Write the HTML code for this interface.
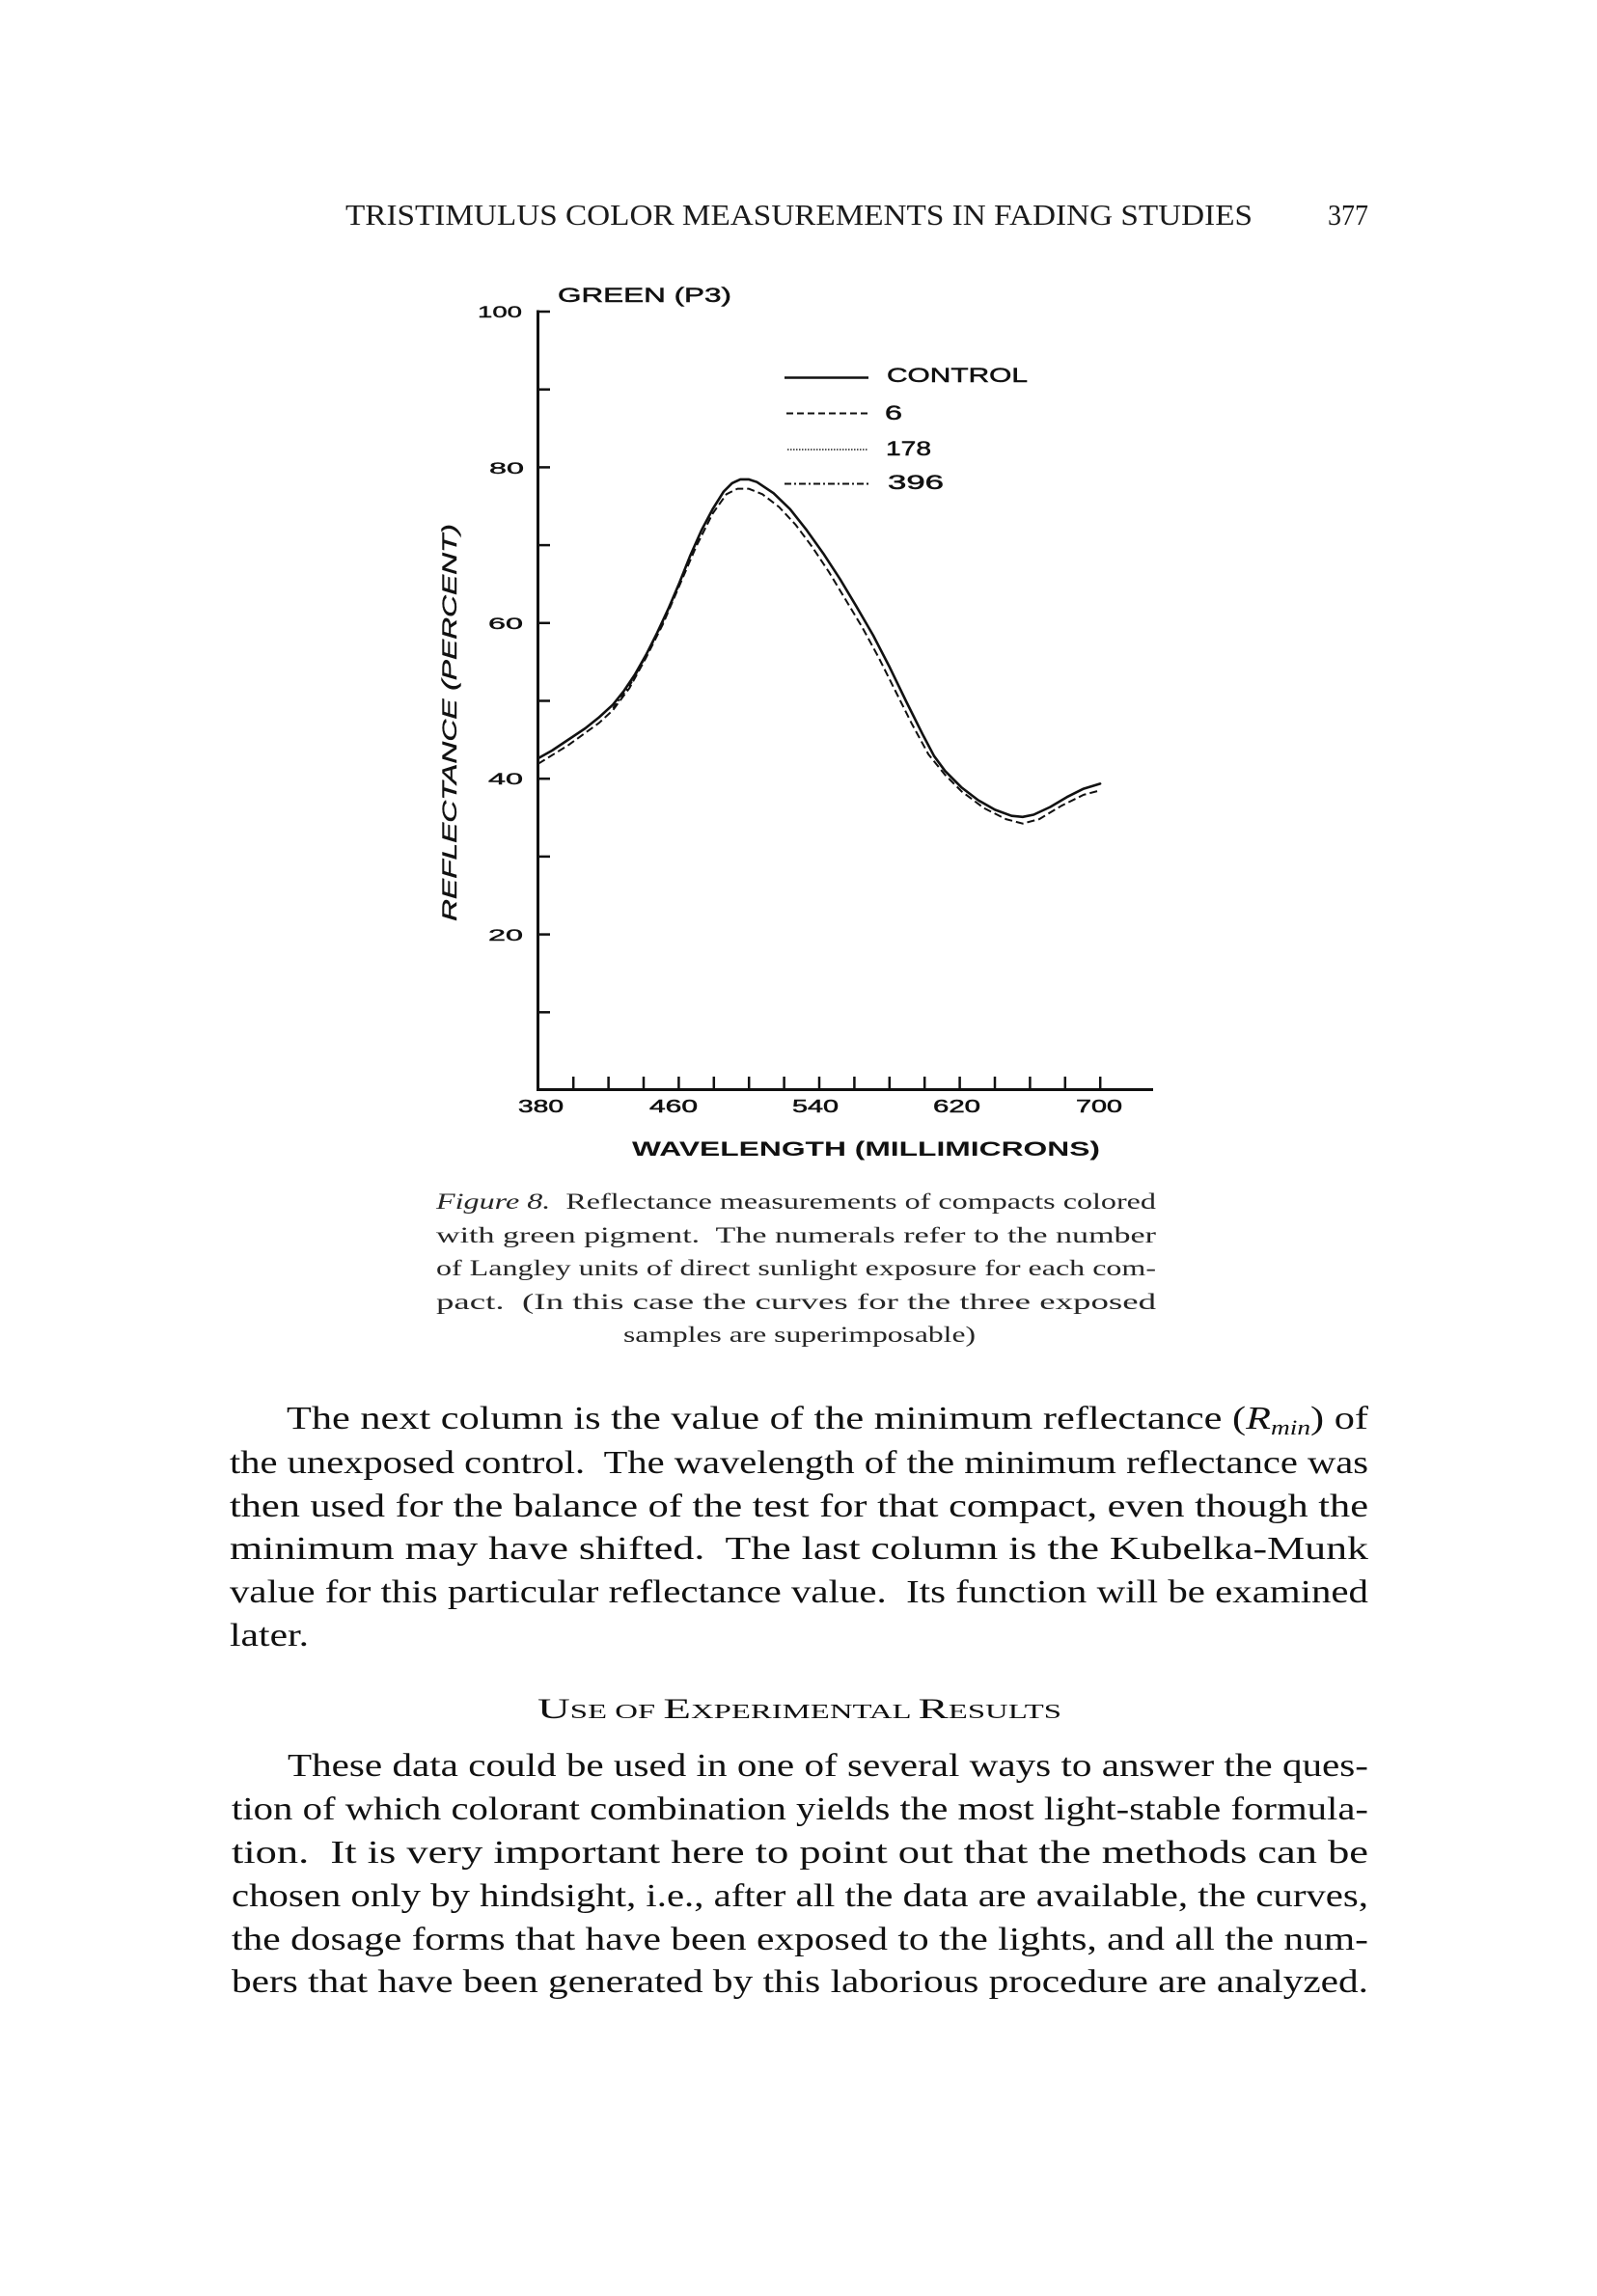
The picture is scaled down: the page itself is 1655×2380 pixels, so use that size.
<!DOCTYPE html>
<html>
<head>
<meta charset="utf-8">
<style>
  html, body { margin:0; padding:0; background:#fff; }
  svg { display:block; }
  .serif { font-family: "Liberation Serif", "DejaVu Serif", serif; }
  .sans { font-family: "Liberation Sans", "DejaVu Sans", sans-serif; }
  text { white-space: pre; }
</style>
</head>
<body>
<svg width="1655" height="2380" viewBox="0 0 1655 2380" xmlns="http://www.w3.org/2000/svg">
  <rect x="0" y="0" width="1655" height="2380" fill="#fff"/>

  <!-- Running header -->
  <text class="serif" x="358" y="233" font-size="31" fill="#1a1a1a" textLength="940" lengthAdjust="spacingAndGlyphs">TRISTIMULUS COLOR MEASUREMENTS IN FADING STUDIES</text>
  <text class="serif" x="1376" y="233" font-size="31" fill="#1a1a1a" textLength="42" lengthAdjust="spacingAndGlyphs">377</text>

  <!-- Chart title -->
  <text class="sans" x="578" y="313" font-size="21" fill="#111" stroke="#111" stroke-width="0.5" textLength="180" lengthAdjust="spacingAndGlyphs">GREEN (P3)</text>

  <!-- Axes -->
  <line x1="557.5" y1="321.5" x2="557.5" y2="1131" stroke="#111" stroke-width="3"/>
  <line x1="556" y1="1129.5" x2="1195" y2="1129.5" stroke="#111" stroke-width="3"/>

  <!-- Y ticks -->
  <g stroke="#111" stroke-width="2.5">
    <line x1="557" y1="323" x2="570" y2="323"/>
    <line x1="557" y1="403.7" x2="570" y2="403.7"/>
    <line x1="557" y1="484.4" x2="570" y2="484.4"/>
    <line x1="557" y1="565.1" x2="570" y2="565.1"/>
    <line x1="557" y1="645.8" x2="570" y2="645.8"/>
    <line x1="557" y1="726.5" x2="570" y2="726.5"/>
    <line x1="557" y1="807.2" x2="570" y2="807.2"/>
    <line x1="557" y1="887.9" x2="570" y2="887.9"/>
    <line x1="557" y1="968.6" x2="570" y2="968.6"/>
    <line x1="557" y1="1049.3" x2="570" y2="1049.3"/>
  </g>

  <!-- X ticks -->
  <g stroke="#111" stroke-width="2.5">
    <line x1="594.2" y1="1116" x2="594.2" y2="1129"/>
    <line x1="630.6" y1="1116" x2="630.6" y2="1129"/>
    <line x1="667.0" y1="1116" x2="667.0" y2="1129"/>
    <line x1="703.4" y1="1116" x2="703.4" y2="1129"/>
    <line x1="739.8" y1="1116" x2="739.8" y2="1129"/>
    <line x1="776.2" y1="1116" x2="776.2" y2="1129"/>
    <line x1="812.6" y1="1116" x2="812.6" y2="1129"/>
    <line x1="849.0" y1="1116" x2="849.0" y2="1129"/>
    <line x1="885.4" y1="1116" x2="885.4" y2="1129"/>
    <line x1="921.8" y1="1116" x2="921.8" y2="1129"/>
    <line x1="958.2" y1="1116" x2="958.2" y2="1129"/>
    <line x1="994.6" y1="1116" x2="994.6" y2="1129"/>
    <line x1="1031.0" y1="1116" x2="1031.0" y2="1129"/>
    <line x1="1067.4" y1="1116" x2="1067.4" y2="1129"/>
    <line x1="1103.8" y1="1116" x2="1103.8" y2="1129"/>
    <line x1="1140.2" y1="1116" x2="1140.2" y2="1129"/>
  </g>

  <!-- Y tick labels -->
  <g class="sans" font-size="17" fill="#111" stroke="#111" stroke-width="0.4">
    <text x="495" y="329" textLength="46" lengthAdjust="spacingAndGlyphs">100</text>
    <text x="507" y="491" textLength="36" lengthAdjust="spacingAndGlyphs">80</text>
    <text x="506" y="652" textLength="36" lengthAdjust="spacingAndGlyphs">60</text>
    <text x="506" y="813" textLength="36" lengthAdjust="spacingAndGlyphs">40</text>
    <text x="506" y="975" textLength="36" lengthAdjust="spacingAndGlyphs">20</text>
  </g>

  <!-- X tick labels -->
  <g class="sans" font-size="18" fill="#111" stroke="#111" stroke-width="0.5">
    <text x="537" y="1153" textLength="47" lengthAdjust="spacingAndGlyphs">380</text>
    <text x="673" y="1153" textLength="50" lengthAdjust="spacingAndGlyphs">460</text>
    <text x="821" y="1153" textLength="48" lengthAdjust="spacingAndGlyphs">540</text>
    <text x="967" y="1153" textLength="49" lengthAdjust="spacingAndGlyphs">620</text>
    <text x="1115" y="1153" textLength="48" lengthAdjust="spacingAndGlyphs">700</text>
  </g>

  <!-- Axis titles -->
  <text class="sans" x="655" y="1198" font-size="21" font-weight="bold" fill="#111" textLength="485" lengthAdjust="spacingAndGlyphs">WAVELENGTH (MILLIMICRONS)</text>
  <text class="sans" transform="translate(473,955) rotate(-90)" x="0" y="0" font-size="21" font-style="italic" fill="#111" stroke="#111" stroke-width="0.4" textLength="412" lengthAdjust="spacingAndGlyphs">REFLECTANCE (PERCENT)</text>

  <!-- Legend -->
  <line x1="813" y1="391.5" x2="900" y2="391.5" stroke="#111" stroke-width="2.5"/>
  <line x1="815" y1="428.5" x2="900" y2="428.5" stroke="#111" stroke-width="2" stroke-dasharray="7 4"/>
  <line x1="816" y1="466" x2="900" y2="466" stroke="#222" stroke-width="1.6" stroke-dasharray="1.5 1.5"/>
  <line x1="813" y1="501.5" x2="900" y2="501.5" stroke="#111" stroke-width="2" stroke-dasharray="7 3 2 3"/>
  <g class="sans" font-size="21" fill="#111" stroke="#111" stroke-width="0.5">
    <text x="919" y="396" textLength="146" lengthAdjust="spacingAndGlyphs">CONTROL</text>
    <text x="917" y="435" textLength="18" lengthAdjust="spacingAndGlyphs">6</text>
    <text x="918" y="472" textLength="47" lengthAdjust="spacingAndGlyphs">178</text>
    <text x="920" y="507" textLength="58" lengthAdjust="spacingAndGlyphs">396</text>
  </g>

  <!-- Control curve -->
  <polyline fill="none" stroke="#111" stroke-width="2.6" stroke-linejoin="round" stroke-linecap="round"
    points="557.8,786.0 572.1,778.0 589.3,766.5 606.5,755.0 620.9,743.5 635.2,730.4 646.7,716.0 658.2,698.8 669.6,678.7 681.1,655.8 692.6,631.1 704.1,604.1 715.5,575.5 727.0,549.6 738.5,527.8 750.0,509.5 758.6,500.9 767.2,496.9 775.8,496.9 784.4,499.7 801.6,511.2 818.8,527.8 836.0,549.6 853.2,573.7 870.4,600.1 887.6,628.8 904.9,658.6 922.1,691.9 939.3,727.5 956.5,761.9 968.0,783.7 979.4,799.2 996.6,816.4 1013.9,829.6 1031.1,839.4 1048.3,845.7 1059.8,846.8 1071.2,844.5 1088.4,836.5 1105.7,826.2 1122.9,817.6 1140.1,812.4"/>

  <!-- Exposed curve (dashed) -->
  <polyline fill="none" stroke="#111" stroke-width="2" stroke-linejoin="round" stroke-dasharray="8 4"
    points="557.8,791.7 589.3,772.2 620.9,749.3 635.2,736.1 652.4,713.1 669.6,681.6 686.9,647.2 704.1,607.0 721.3,566.9 738.5,532.4 752.8,512.3 764.3,506.6 775.8,506.6 790.1,512.3 807.3,525.5 824.5,543.9 841.7,566.9 858.9,592.7 876.2,621.4 893.4,650.0 910.6,681.6 927.8,716.0 945.0,750.4 962.2,782.0 979.4,803.2 996.6,820.4 1019.6,837.6 1042.5,849.1 1059.8,853.7 1077.0,849.1 1099.9,835.3 1122.9,823.9 1140.1,819.3"/>
  <!-- overlapping dash-dot segment on ascending side -->
  <polyline fill="none" stroke="#111" stroke-width="1.8" stroke-linejoin="round" stroke-dasharray="6 3 2 3"
    points="635.2,734 652.4,711 669.6,680 686.9,645.5 704.1,605.5"/>

  <!-- Caption -->
  <g class="serif" font-size="23" fill="#262626">
    <text x="452" y="1253" textLength="746" lengthAdjust="spacingAndGlyphs"><tspan font-style="italic">Figure 8.</tspan>  Reflectance measurements of compacts colored</text>
    <text x="452" y="1288" textLength="746" lengthAdjust="spacingAndGlyphs">with green pigment.  The numerals refer to the number</text>
    <text x="452" y="1322" textLength="746" lengthAdjust="spacingAndGlyphs">of Langley units of direct sunlight exposure for each com-</text>
    <text x="452" y="1357" textLength="746" lengthAdjust="spacingAndGlyphs">pact.  (In this case the curves for the three exposed</text>
    <text x="646" y="1391" textLength="365" lengthAdjust="spacingAndGlyphs">samples are superimposable)</text>
  </g>

  <!-- Body paragraph 1 -->
  <g class="serif" font-size="34" fill="#111">
    <text x="297" y="1481" textLength="1121" lengthAdjust="spacingAndGlyphs">The next column is the value of the minimum reflectance (<tspan font-style="italic">R</tspan><tspan font-style="italic" font-size="22" dy="6">min</tspan><tspan dy="-6">) of</tspan></text>
    <text x="238" y="1527" textLength="1180" lengthAdjust="spacingAndGlyphs">the unexposed control.  The wavelength of the minimum reflectance was</text>
    <text x="238" y="1572" textLength="1180" lengthAdjust="spacingAndGlyphs">then used for the balance of the test for that compact, even though the</text>
    <text x="238" y="1616" textLength="1180" lengthAdjust="spacingAndGlyphs">minimum may have shifted.  The last column is the Kubelka-Munk</text>
    <text x="238" y="1661" textLength="1180" lengthAdjust="spacingAndGlyphs">value for this particular reflectance value.  Its function will be examined</text>
    <text x="238" y="1706" textLength="82" lengthAdjust="spacingAndGlyphs">later.</text>
  </g>

  <!-- Section heading (small caps) -->
  <text class="serif" x="557" y="1781" fill="#111" font-size="30" textLength="543" lengthAdjust="spacingAndGlyphs">U<tspan font-size="21">SE OF </tspan>E<tspan font-size="21">XPERIMENTAL </tspan>R<tspan font-size="21">ESULTS</tspan></text>

  <!-- Body paragraph 2 -->
  <g class="serif" font-size="34" fill="#111">
    <text x="298" y="1841" textLength="1120" lengthAdjust="spacingAndGlyphs">These data could be used in one of several ways to answer the ques-</text>
    <text x="240" y="1886" textLength="1178" lengthAdjust="spacingAndGlyphs">tion of which colorant combination yields the most light-stable formula-</text>
    <text x="240" y="1931" textLength="1178" lengthAdjust="spacingAndGlyphs">tion.  It is very important here to point out that the methods can be</text>
    <text x="240" y="1976" textLength="1178" lengthAdjust="spacingAndGlyphs">chosen only by hindsight, i.e., after all the data are available, the curves,</text>
    <text x="240" y="2021" textLength="1178" lengthAdjust="spacingAndGlyphs">the dosage forms that have been exposed to the lights, and all the num-</text>
    <text x="240" y="2065" textLength="1178" lengthAdjust="spacingAndGlyphs">bers that have been generated by this laborious procedure are analyzed.</text>
  </g>
</svg>
</body>
</html>
